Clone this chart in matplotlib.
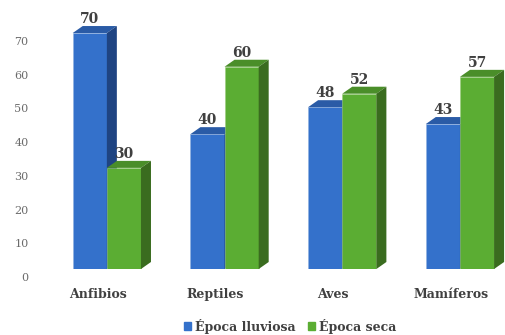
import numpy as np
import matplotlib.pyplot as plt
from matplotlib.patches import Polygon
import matplotlib.transforms as mtransforms

categorias = ["Anfibios", "Reptiles", "Aves", "Mamíferos"]
lluviosa = [70, 40, 48, 43]
seca = [30, 60, 52, 57]
series = ["Época lluviosa", "Época seca"]

# colores: frente, arriba, lado
azul = ["#3471CB", "#2A5BA6", "#1F4482"]
verde = ["#5BAD33", "#4A8E29", "#3A6C1F"]

plt.rcParams["font.family"] = ["DejaVu Serif"]

fig = plt.figure(figsize=(5.05, 3.35), dpi=100)
ax = fig.add_axes([48 / 505, 66 / 335, 457 / 505, 269 / 335])
ax.set_xlim(-0.5, -0.5 + 457 / 117.7)
ax.set_ylim(0, 269 / 3.371)

x = np.arange(len(categorias))
w = 0.29
dx = 10 / 117.7   # profundidad en x
dy = 7 / 3.371    # profundidad en y


def barra3d(xc, h, cols, z):
    ax.bar(xc, h, width=w, color=cols[0], edgecolor="#8fb0e0" if cols is azul else "#9ccc80",
           linewidth=0.4, zorder=z)
    xl, xr = xc - w / 2, xc + w / 2
    top = Polygon([(xl, h), (xl + dx, h + dy), (xr + dx, h + dy), (xr, h)],
                  closed=True, fc=cols[1], ec="none", zorder=z)
    side = Polygon([(xr, 0), (xr + dx, dy), (xr + dx, h + dy), (xr, h)],
                   closed=True, fc=cols[2], ec="none", zorder=z)
    ax.add_patch(top)
    ax.add_patch(side)
    ax.text(xc, h + dy, str(h), ha="center", va="bottom", fontsize=10,
            fontweight="bold", color="#404040", zorder=10)


for i in range(len(categorias)):
    barra3d(x[i] - w / 2, lluviosa[i], azul, 2 + i * 2)
    barra3d(x[i] + w / 2, seca[i], verde, 3 + i * 2)

ax.set_yticks(range(0, 71, 10))
ax.tick_params(axis="y", length=0, pad=14, labelsize=8, labelcolor="#6b6b6b")
off = mtransforms.ScaledTranslation(0, -8 / 100, fig.dpi_scale_trans)
for lab in ax.get_yticklabels():
    lab.set_transform(lab.get_transform() + off)

ax.set_xticks(x)
ax.set_xticklabels(categorias, fontsize=9, fontweight="bold", color="#404040")
ax.tick_params(axis="x", length=0, pad=14)
offx = mtransforms.ScaledTranslation(-9 / 100, 0, fig.dpi_scale_trans)
for lab in ax.get_xticklabels():
    lab.set_transform(lab.get_transform() + offx)

for s in ax.spines.values():
    s.set_visible(False)

h1 = plt.Rectangle((0, 0), 1, 1, color=azul[0])
h2 = plt.Rectangle((0, 0), 1, 1, color=verde[0])
leg = fig.legend([h1, h2], series, loc="center", bbox_to_anchor=(290 / 505, 1 - 326 / 335),
                 ncol=2, frameon=False, handlelength=0.6, handleheight=0.6,
                 handletextpad=0.3, columnspacing=1.0,
                 prop={"size": 9, "weight": "bold"})
for t in leg.get_texts():
    t.set_color("#404040")

fig.savefig("out.png", dpi=100)
